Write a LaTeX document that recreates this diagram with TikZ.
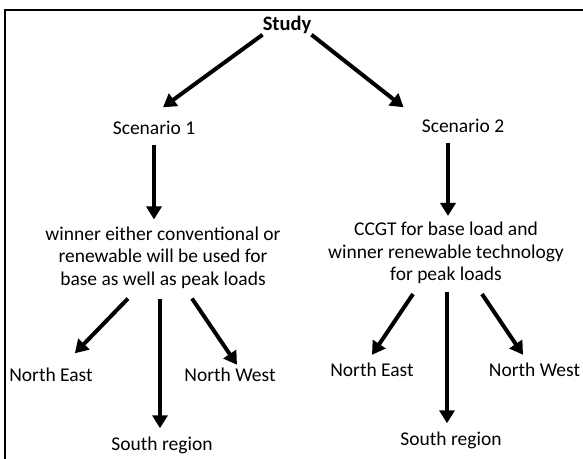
\documentclass[tikz,border=0pt]{standalone}
\usepackage{fontspec}
\setmainfont{Carlito}
\usetikzlibrary{arrows.meta}

\begin{document}
\begin{tikzpicture}[x=1pt,y=-1pt,
    lbl/.style={inner sep=0pt,text height=13pt,text depth=4pt,font=\fontsize{19.5}{22.5}\selectfont},
    para/.style={inner sep=0pt,align=center,font=\fontsize{19.5}{22.5}\selectfont},
    arr/.style={line width=4pt,-{Triangle[length=13pt,width=15pt]}}]

    \clip (0,0) rectangle (583,458);
    \draw [line width=2pt] (5,470) -- (5,10) -- (600,10);

    \node (study) [lbl,font=\fontsize{20.5}{24}\selectfont\bfseries] at (287,26) {Study};
    \node (scen1) [lbl] at (154,130) {Scenario 1};
    \node (scen2) [lbl] at (463,128) {Scenario 2};
    \node (win1) [para] at (163,257.5) {winner either conventional or\\renewable will be used for\\base as well as peak loads};
    \node (win2) [para] at (446,253) {CCGT for base load and\\winner renewable technology\\for peak loads};

    \node (ne1) [lbl] at (51,377) {North East};
    \node (nw1) [lbl] at (230,377) {North West};
    \node (s1) [lbl] at (162,446) {South region};
    \node (ne2) [lbl] at (372,372) {North East};
    \node (nw2) [lbl] at (534.5,372) {North West};
    \node (s2) [lbl] at (451,441) {South region};

    \draw [arr] (study.south west) to ([xshift=9pt,yshift=14pt]scen1.north);
    \draw [arr] (study.south east) to ([xshift=-18pt,yshift=12pt]scen2.north west);
    \draw [arr] ([yshift=-6pt]scen1.south) to ([yshift=7pt]scen1.south |- win1.north);
    \draw [arr] ([xshift=-15pt,yshift=-6pt]scen2.south) to ([xshift=-15pt,yshift=6pt]scen2.south |- win2.north);

    \draw [arr] ([xshift=-35pt,yshift=-10pt]win1.south) to ([xshift=-18pt,yshift=15pt]ne1.north east);
    \draw [arr] ([xshift=-3pt,yshift=-10pt]win1.south) to ([xshift=-2pt,yshift=9pt]s1.north);
    \draw [arr] ([xshift=29pt,yshift=-10pt]win1.south) to ([xshift=7pt,yshift=3.5pt]nw1.north);
    \draw [arr] ([xshift=-33pt,yshift=-10pt]win2.south) to ([yshift=8.5pt]ne2.north);
    \draw [arr] ([xshift=1pt,yshift=-8pt]win2.south) to ([xshift=-4pt,yshift=9pt]s2.north);
    \draw [arr] ([xshift=36pt,yshift=-10pt]win2.south) to ([xshift=-11.5pt,yshift=8.5pt]nw2.north);

\end{tikzpicture}
\end{document}
